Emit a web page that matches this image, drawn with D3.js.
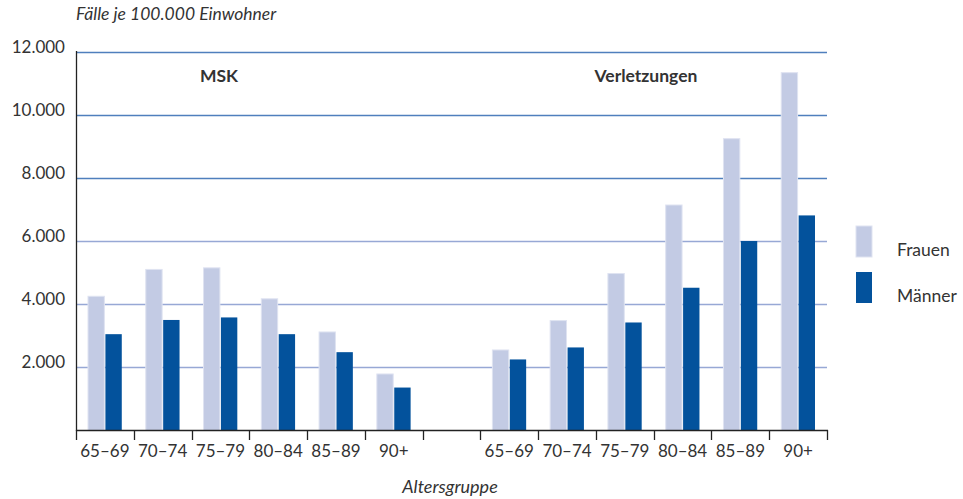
<!DOCTYPE html>
<html>
<head>
<meta charset="utf-8">
<script src="https://cdn.jsdelivr.net/npm/d3@7"></script>
<style>
  body { margin: 0; background: #fff; }
  svg text { font-family: Lato, "Open Sans", sans-serif; fill: #333; }
</style>
</head>
<body>
<script>
(function() {

    const width = 963;
    const height = 499;

    // age groups per panel, with one empty slot between the two panels
    const ageGroups = ["65–69", "70–74", "75–79", "80–84", "85–89", "90+"];
    const panels = ["MSK", "Verletzungen"];
    const seriesNames = ["Frauen", "Männer"];

    // cases per 100.000 inhabitants
    const mskFrauen = [4250, 5100, 5150, 4170, 3120, 1790];
    const mskMaenner = [3050, 3500, 3580, 3050, 2480, 1360];
    const verlFrauen = [2550, 3480, 4970, 7140, 9240, 11330];
    const verlMaenner = [2250, 2630, 3420, 4520, 6000, 6810];

    const yTicks = [2000, 4000, 6000, 8000, 10000, 12000];

    const colors = { Frauen: "#c3cbe4", "Männer": "#03529c" };

    // slots: 6 MSK, 1 blank, 6 Verletzungen
    let slots = [];
    ageGroups.forEach((g, i) => slots.push("msk" + i));
    slots.push("gap");
    ageGroups.forEach((g, i) => slots.push("verl" + i));

    let rows = [];
    ageGroups.forEach((g, i) => {
        rows.push({ slot: "msk" + i, label: g, Frauen: mskFrauen[i], "Männer": mskMaenner[i] });
        rows.push({ slot: "verl" + i, label: g, Frauen: verlFrauen[i], "Männer": verlMaenner[i] });
    });

    let svg = d3.select("body").append("svg")
        .attr("width", width)
        .attr("height", height);

    let x = d3.scaleBand()
        .domain(slots)
        .range([76, 827])
        .paddingInner(0)
        .paddingOuter(0);

    let xInner = d3.scaleBand()
        .domain(seriesNames)
        .range([12, x.bandwidth() - 12])
        .paddingInner(0.06);

    let y = d3.scaleLinear()
        .domain([0, 12000])
        .range([430.5, 51.5]);

    // grid lines
    svg.append("g")
        .selectAll("line")
        .data(yTicks)
        .enter()
        .append("line")
        .attr("x1", 76)
        .attr("x2", 827)
        .attr("y1", d => Math.round(y(d)) + 0.5)
        .attr("y2", d => Math.round(y(d)) + 0.5)
        .style("stroke", d => d >= 8000 ? "#4f7fbd" : "#97a8d5")
        .style("stroke-width", 1.6);

    // y tick labels
    svg.append("g")
        .selectAll("text")
        .data(yTicks)
        .enter()
        .append("text")
        .attr("x", 65)
        .attr("y", d => y(d) + 1)
        .attr("text-anchor", "end")
        .style("font-size", "17px")
        .text(d => d3.format(",")(d).replace(",", "."));

    // bars
    let groups = svg.append("g")
        .selectAll("g")
        .data(rows)
        .enter()
        .append("g")
        .attr("transform", d => "translate(" + x(d.slot) + ",0)");

    groups.selectAll("rect")
        .data(d => seriesNames.map(s => ({ key: s, value: d[s] })))
        .enter()
        .append("rect")
        .attr("x", d => xInner(d.key))
        .attr("width", xInner.bandwidth())
        .attr("y", d => y(d.value))
        .attr("height", d => y(0) - y(d.value))
        .style("fill", d => colors[d.key])
        .style("stroke", d => d.key == "Frauen" ? "#dfe3f1" : "none")
        .style("stroke-width", 1);

    // axes lines
    svg.append("line")
        .attr("x1", 76.5).attr("x2", 76.5)
        .attr("y1", 51).attr("y2", 431)
        .style("stroke", "#222").style("stroke-width", 1.3);

    svg.append("line")
        .attr("x1", 76).attr("x2", 828)
        .attr("y1", 430.5).attr("y2", 430.5)
        .style("stroke", "#222").style("stroke-width", 1.5);

    // tick marks between slots
    let tickXs = slots.map(s => x(s)).concat([x.range()[1]]);
    svg.append("g")
        .selectAll("line")
        .data(tickXs)
        .enter()
        .append("line")
        .attr("x1", d => Math.round(d) + 0.5)
        .attr("x2", d => Math.round(d) + 0.5)
        .attr("y1", 430)
        .attr("y2", 440)
        .style("stroke", "#222")
        .style("stroke-width", 1.3);

    // x labels
    svg.append("g")
        .selectAll("text")
        .data(rows)
        .enter()
        .append("text")
        .attr("x", d => x(d.slot) + x.bandwidth() / 2)
        .attr("y", 457)
        .attr("text-anchor", "middle")
        .style("font-size", "17px")
        .text(d => d.label);

    // panel titles
    svg.append("text")
        .attr("x", 219)
        .attr("y", 82)
        .attr("text-anchor", "middle")
        .style("font-size", "17.5px")
        .style("font-weight", "bold")
        .text(panels[0]);

    svg.append("text")
        .attr("x", 646)
        .attr("y", 82)
        .attr("text-anchor", "middle")
        .style("font-size", "17.5px")
        .style("font-weight", "bold")
        .text(panels[1]);

    // axis titles
    svg.append("text")
        .attr("x", 76)
        .attr("y", 20)
        .style("font-size", "17.5px")
        .style("font-style", "italic")
        .text("Fälle je 100.000 Einwohner");

    svg.append("text")
        .attr("x", 450)
        .attr("y", 493)
        .attr("text-anchor", "middle")
        .style("font-size", "18px")
        .style("font-style", "italic")
        .text("Altersgruppe");

    // legend
    let legend = svg.append("g")
        .selectAll("g")
        .data(seriesNames)
        .enter()
        .append("g")
        .attr("transform", (d, i) => "translate(856," + (226 + i * 46) + ")");

    legend.append("rect")
        .attr("width", 16)
        .attr("height", 31)
        .style("fill", d => colors[d])
        .style("stroke", d => d == "Frauen" ? "#dfe3f1" : "none");

    legend.append("text")
        .attr("x", 41)
        .attr("y", 30)
        .style("font-size", "17.5px")
        .text(d => d);

})();
</script>
</body>
</html>
